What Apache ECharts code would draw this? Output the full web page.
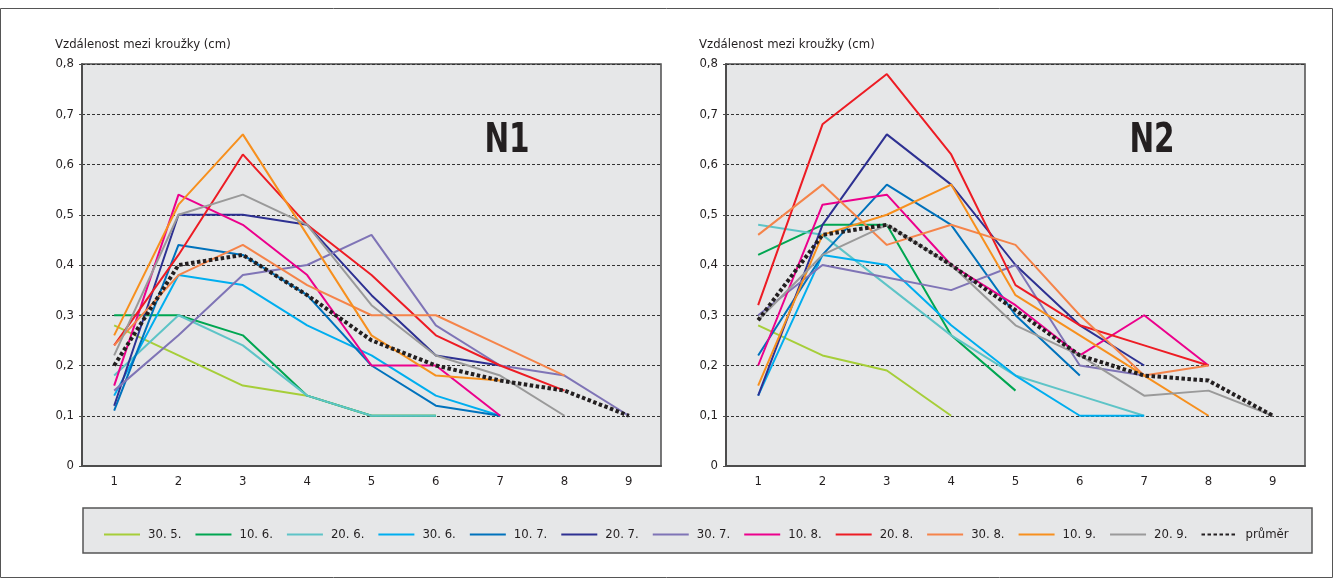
<!DOCTYPE html>
<html>
<head>
<meta charset="utf-8">
<script src="https://cdn.jsdelivr.net/npm/echarts/dist/echarts.min.js"></script>
<style>
html,body{margin:0;padding:0;background:#fff;}
#chart{width:1334px;height:581px;}
</style>
</head>
<body>
<div id="chart"></div>
<script>
// ---- data ----
const categories = ['1','2','3','4','5','6','7','8','9'];
const seriesNames = ['30. 5.','10. 6.','20. 6.','30. 6.','10. 7.','20. 7.','30. 7.','10. 8.','20. 8.','30. 8.','10. 9.','20. 9.','průměr'];
const seriesColors = ['#a6ce39','#00a651','#5ec4c7','#00aeef','#0072bc','#2e3192','#7f74b6','#ec008c','#ed1c24','#f5844a','#f7901e','#9a9a9a','#231f20'];
const yTicks = [0,0.1,0.2,0.3,0.4,0.5,0.6,0.7,0.8];

// N1
const n1_305 = [0.28,0.22,0.16,0.14,0.10,0.10];
const n1_106 = [0.30,0.30,0.26,0.14,0.10,0.10];
const n1_206 = [0.18,0.30,0.24,0.14,0.10,0.10];
const n1_306 = [0.14,0.38,0.36,0.28,0.22,0.14,0.10];
const n1_107 = [0.11,0.44,0.42,0.34,0.20,0.12,0.10];
const n1_207 = [0.12,0.50,0.50,0.48,0.34,0.22,0.20];
const n1_307 = [0.15,0.26,0.38,0.40,0.46,0.28,0.20,0.18,0.10];
const n1_108 = [0.16,0.54,0.48,0.38,0.20,0.20,0.10];
const n1_208 = [0.24,0.42,0.62,0.48,0.38,0.26,0.20,0.15];
const n1_308 = [0.24,0.38,0.44,0.36,0.30,0.30,0.24,0.18];
const n1_109 = [0.26,0.52,0.66,0.46,0.26,0.18,0.17];
const n1_209 = [0.22,0.50,0.54,0.48,0.32,0.22,0.18,0.10];
const n1_avg = [0.20,0.40,0.42,0.34,0.25,0.20,0.17,0.15,0.10];

// N2
const n2_305 = [0.28,0.22,0.19,0.10];
const n2_106 = [0.42,0.48,0.48,0.26,0.15];
const n2_206 = [0.48,0.46,0.36,0.26,0.18,0.14,0.10];
const n2_306 = [0.14,0.42,0.40,0.28,0.18,0.10,0.10];
const n2_107 = [0.22,0.42,0.56,0.48,0.30,0.18];
const n2_207 = [0.14,0.48,0.66,0.56,0.40,0.28,0.20];
const n2_307 = [0.30,0.40,0.375,0.35,0.40,0.20,0.18];
const n2_108 = [0.20,0.52,0.54,0.40,0.32,0.22,0.30,0.20];
const n2_208 = [0.32,0.68,0.78,0.62,0.36,0.28,0.24,0.20];
const n2_308 = [0.46,0.56,0.44,0.48,0.44,0.30,0.18,0.20];
const n2_109 = [0.16,0.46,0.50,0.56,0.34,0.26,0.18,0.10];
const n2_209 = [0.29,0.42,0.48,0.40,0.28,0.22,0.14,0.15,0.10];
const n2_avg = [0.29,0.46,0.48,0.40,0.31,0.22,0.18,0.17,0.10];

const n1Data = [n1_305,n1_106,n1_206,n1_306,n1_107,n1_207,n1_307,n1_108,n1_208,n1_308,n1_109,n1_209,n1_avg];
const n2Data = [n2_305,n2_106,n2_206,n2_306,n2_107,n2_207,n2_307,n2_108,n2_208,n2_308,n2_109,n2_209,n2_avg];

// ---- chart ----
const FONT = "'Liberation Sans Narrow','DejaVu Sans Condensed','Roboto',sans-serif";
const chart = echarts.init(document.getElementById('chart'), null, {renderer:'canvas'});

function buildSeries(dataSets, gridIdx){
  return dataSets.map((d,i)=>{
    const isAvg = i === dataSets.length-1;
    return {
      name: seriesNames[i],
      type: 'line',
      xAxisIndex: gridIdx,
      yAxisIndex: gridIdx,
      data: d,
      symbol: 'none',
      silent: true,
      animation: false,
      z: isAvg ? 5 : 3,
      lineStyle: isAvg
        ? {color: seriesColors[i], width: 4, type: [3.5,2.5], cap: 'butt'}
        : {color: seriesColors[i], width: 2},
      itemStyle: {color: seriesColors[i]}
    };
  });
}

function xAxis(gridIdx){
  return {
    type:'category', gridIndex:gridIdx, data:categories, boundaryGap:true,
    axisLine:{show:true, lineStyle:{color:'#4d4d4d', width:2}},
    axisTick:{show:false},
    axisLabel:{color:'#231f20', fontSize:13, fontFamily:FONT, margin:9},
    splitLine:{show:false}
  };
}
function yAxis(gridIdx){
  return {
    type:'value', gridIndex:gridIdx, min:0, max:0.8, interval:0.1,
    axisLine:{show:true, lineStyle:{color:'#4d4d4d', width:2}},
    axisTick:{show:true, length:3, lineStyle:{color:'#4d4d4d'}},
    axisLabel:{color:'#231f20', fontSize:13, fontFamily:FONT, margin:8,
      formatter:(v)=> v===0 ? '0' : v.toFixed(1).replace('.',',')},
    splitLine:{show:true, lineStyle:{color:'#333', type:[3,2], width:1}}
  };
}

const option = {
  backgroundColor:'#ffffff',
  animation:false,
  grid:[
    {left:82, top:64, width:579, height:402, show:true, backgroundColor:'#e6e7e8', borderColor:'#4d4d4d', borderWidth:1.5},
    {left:726, top:64, width:579, height:402, show:true, backgroundColor:'#e6e7e8', borderColor:'#4d4d4d', borderWidth:1.5}
  ],
  xAxis:[xAxis(0), xAxis(1)],
  yAxis:[yAxis(0), yAxis(1)],
  legend:{
    data: seriesNames,
    left: 98, top: 523,
    itemWidth: 36, itemHeight: 14, itemGap: 13,
    itemStyle:{opacity:0},
    textStyle:{color:'#231f20', fontSize:13, fontFamily:FONT, padding:[0,0,0,3]},
    selectedMode:false
  },
  graphic:[
    {type:'rect', z:-10, shape:{x:0.5, y:8.5, width:1332, height:569}, style:{fill:'#ffffff', stroke:'#555', lineWidth:1}},
    {type:'rect', z:-5, shape:{x:83, y:508, width:1229, height:45}, style:{fill:'#e6e7e8', stroke:'#555', lineWidth:1.5}},
    {type:'text', x:55, y:45, style:{text:'Vzdálenost mezi kroužky (cm)', font:"13px "+FONT, fill:'#231f20', textVerticalAlign:'middle'}},
    {type:'text', x:699, y:45, style:{text:'Vzdálenost mezi kroužky (cm)', font:"13px "+FONT, fill:'#231f20', textVerticalAlign:'middle'}},
    {type:'text', x:507, y:141, z:10, scaleX:0.8, style:{text:'N1', font:"bold 41px "+FONT, fill:'#231f20', textAlign:'center', textVerticalAlign:'middle'}},
    {type:'text', x:1152, y:141, z:10, scaleX:0.8, style:{text:'N2', font:"bold 41px "+FONT, fill:'#231f20', textAlign:'center', textVerticalAlign:'middle'}}
  ],
  series: buildSeries(n1Data,0).concat(buildSeries(n2Data,1))
};
chart.setOption(option);
</script>
</body>
</html>
